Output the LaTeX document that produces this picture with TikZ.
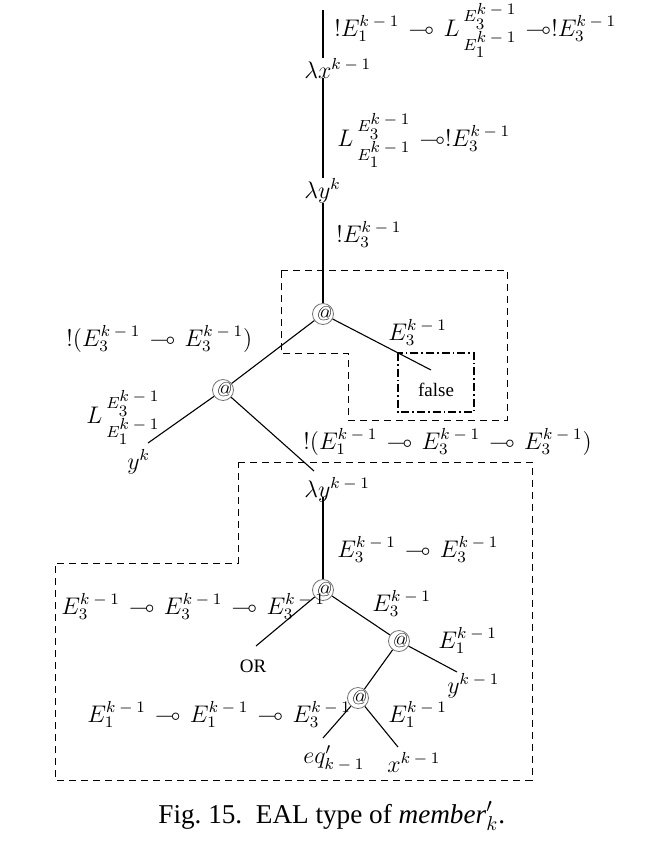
\documentclass[tikz,border=0pt]{standalone}
\usepackage{amssymb}
\usepackage{fontspec}
\newfontfamily\capfont{Liberation Serif}
\newcommand{\km}{k\mskip4mu{-}\mskip4mu1}
\newcommand{\mm}{\mskip2mu\multimap\mskip2mu}
\newcommand{\mmt}{\mskip2mu\multimap}
\newcommand{\LEE}{L\mkern3mu\rlap{\raisebox{7.2pt}{$\scriptstyle E_{\scriptstyle 3}^{\scriptstyle\km}$}}\raisebox{-7pt}{$\scriptstyle E_{\scriptstyle 1}^{\scriptstyle\km}$}}
\begin{document}
\begin{tikzpicture}[x=0.5pt,y=-0.5pt,
  edge/.style={line width=0.55pt},
  spine/.style={line width=0.7pt},
  app/.style={circle,draw=black!55,line width=0.4pt,inner sep=0pt,minimum size=8.8pt,font=\normalsize\itshape},
  lab/.style={anchor=base west,inner sep=0pt,font=\fontsize{11.5}{14}\selectfont},
  txt/.style={inner sep=0pt,font=\capfont\fontsize{9.5}{11}\selectfont},
  dbox/.style={dash pattern=on 3.5pt off 2.5pt,line width=0.5pt},
  ddbox/.style={dash pattern=on 4pt off 1.5pt on 0.8pt off 1.5pt,line width=0.8pt}]
\useasboundingbox (0,0) rectangle (648,864);

% dashed regions
\draw[dbox] (281,270) -- (507,270) -- (507,420) -- (348,420) -- (348,353) -- (281,353) -- cycle;
\draw[ddbox] (398,353) rectangle (474,412);
\draw[dbox] (238,462) -- (532,462) -- (532,780) -- (55,780) -- (55,563) -- (238,563) -- cycle;

% spine
\coordinate (top) at (323,10);
\node[lab] (lx) at (304,78) {$\lambda x^{\km}$};
\node[lab] (ly) at (304,198) {$\lambda y^{k}$};
\node[app] (a1) at (323,314) {@};
\draw[spine] (top) -- (top |- lx.north);
\draw[spine] (top |- lx.base) -- (top |- ly.north);
\draw[spine] (top |- ly.south) -- (a1);

\node[lab] (t1) at (334,36) {$!E_1^{\km}\mm \LEE\mmt !E_3^{\km}$};
\node[lab] (t2) at (337,146) {$\LEE\mmt !E_3^{\km}$};
\node[lab] (t3) at (336,242) {$!E_3^{\km}$};

% first application
\node[app] (a2) at (223,390) {@};
\node[txt] (false) at (436,390) {false};
\coordinate (falseIn) at (431,370);
\draw[edge] (a1) -- (a2);
\draw[edge] (a1) -- (falseIn);
\node[lab] (t4) at (388,340) {$E_3^{\km}$};
\node[lab] (t5) at (66,346) {$!(E_3^{\km}\mm E_3^{\km})$};

% second application
\node[lab] (yk) at (127,469) {$y^{k}$};
\coordinate (ykIn) at (148,443);
\node[lab] (ly2) at (304,497) {$\lambda y^{\km}$};
\coordinate (ly2In) at (314,471);
\draw[edge] (a2) -- (ykIn);
\draw[edge] (a2) -- (ly2In);
\node[lab] (t6) at (86,423) {$\LEE$};
\node[lab] (t7) at (303,449) {$!(E_1^{\km}\mm E_3^{\km}\mm E_3^{\km})$};

% inner term
\node[app] (a3) at (323,590) {@};
\draw[spine] (top |- ly2.base) -- (a3);
\node[lab] (t8) at (337,557) {$E_3^{\km}\mm E_3^{\km}$};
\node[txt] (or) at (253,666) {OR};
\coordinate (orIn) at (256,646);
\node[app] (a4) at (399,641) {@};
\draw[edge] (a3) -- (orIn);
\draw[edge] (a3) -- (a4);
\node[lab] (t9) at (61,614) {$E_3^{\km}\mm E_3^{\km}\mm E_3^{\km}$};
\node[lab] (t10) at (372,611) {$E_3^{\km}$};

\node[lab] (yk1) at (447,693) {$y^{\km}$};
\coordinate (yk1In) at (457,672);
\node[app] (a5) at (358,698) {@};
\draw[edge] (a4) -- (yk1In);
\draw[edge] (a4) -- (a5);
\node[lab] (t11) at (438,648) {$E_1^{\km}$};

\node[lab] (eq) at (303,763) {$eq'_{\km}$};
\coordinate (eqIn) at (323,738);
\node[lab] (xk1) at (387,772) {$x^{\km}$};
\coordinate (xk1In) at (398,747);
\draw[edge] (a5) -- (eqIn);
\draw[edge] (a5) -- (xk1In);
\node[lab] (t12) at (87,722) {$E_1^{\km}\mm E_1^{\km}\mm E_3^{\km}$};
\node[lab] (t13) at (388,722) {$E_1^{\km}$};

% caption
\node[anchor=base west,inner sep=0pt,font=\capfont\fontsize{13.6}{16}\selectfont] (cap) at (158,823) {Fig.~15.\ \ EAL type of \textit{member}$'_k$.};
\end{tikzpicture}
\end{document}
